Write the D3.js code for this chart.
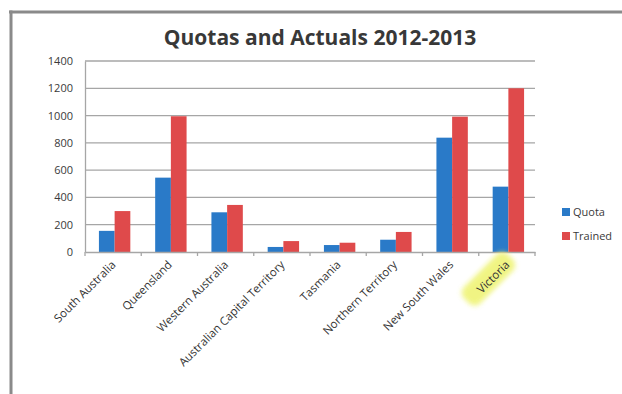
<!DOCTYPE html>
<html><head><meta charset="utf-8">
<script src="https://cdn.jsdelivr.net/npm/d3@7"></script>
<style>body{margin:0;background:#fff}svg{display:block}</style>
</head><body>
<svg id="c" width="622" height="394"></svg>
<script>
const categories = ["South Australia","Queensland","Western Australia","Australian Capital Territory","Tasmania","Northern Territory","New South Wales","Victoria"];
const quota = [155, 545, 291, 37, 51, 90, 838, 479];
const trained = [300, 995, 345, 80, 68, 147, 992, 1200];
const seriesNames = ["Quota","Trained"];
const seriesColors = ["#2a7ac8","#df4a4b"];
const yTicks = [0,200,400,600,800,1000,1200,1400];
const title = "Quotas and Actuals 2012-2013";

const svg = d3.select("#c");
const font = "'Open Sans', Calibri, sans-serif";
const W = 622, H = 394;
const m = {left:85, right:535, top:61, bottom:252};

// frame
svg.append("rect").attr("x",0).attr("y",0).attr("width",W).attr("height",H).attr("fill","#fff");
svg.append("line").attr("x1",9).attr("x2",W).attr("y1",12).attr("y2",12).attr("stroke","#8a8a8a").attr("stroke-width",3);
svg.append("line").attr("x1",11).attr("x2",11).attr("y1",10.5).attr("y2",H).attr("stroke","#8a8a8a").attr("stroke-width",3);

const x = d3.scaleBand().domain(categories).range([m.left,m.right]);
const y = d3.scaleLinear().domain([0,1400]).range([m.bottom,m.top]);
const x1 = d3.scaleBand().domain(seriesNames).range([0,31.4]);

// gridlines
svg.append("g").selectAll("line").data(yTicks.filter(d=>d>0)).join("line")
  .attr("x1",m.left).attr("x2",m.right).attr("y1",d=>y(d)).attr("y2",d=>y(d))
  .attr("stroke","#a6a6a6").attr("stroke-width",1.3);

// y axis
const ya = svg.append("g").attr("transform",`translate(${m.left},0)`)
  .call(d3.axisLeft(y).tickValues(yTicks).tickFormat(d3.format("d")).tickSize(0).tickPadding(12));
ya.select(".domain").attr("stroke","#a6a6a6").attr("stroke-width",1.3);
ya.selectAll("text").attr("font-family",font).attr("font-size",11).attr("fill","#3a3a3a");

// bars
const data = categories.map((c,i)=>({c, vals:[quota[i],trained[i]]}));
const g = svg.append("g");
data.forEach(d=>{
  const cx = x(d.c) + x.bandwidth()/2 + 1.5;
  g.selectAll(null).data(d.vals).join("rect")
    .attr("x",(v,j)=>cx - 15.7 + x1(seriesNames[j]))
    .attr("width",x1.bandwidth())
    .attr("y",v=>y(v)).attr("height",v=>y(0)-y(v))
    .attr("fill",(v,j)=>seriesColors[j]);
});

// x axis
const xa = svg.append("g").attr("transform",`translate(0,${m.bottom})`)
  .call(d3.axisBottom(x).tickSize(0).tickFormat(""));
xa.select(".domain").attr("stroke","#a6a6a6").attr("stroke-width",1.3);
const bounds = categories.map(c=>x(c)).concat([m.right]);
svg.append("g").selectAll("line").data(bounds).join("line")
  .attr("x1",d=>d).attr("x2",d=>d).attr("y1",m.bottom).attr("y2",m.bottom+4)
  .attr("stroke","#a6a6a6").attr("stroke-width",1.3);

// category labels
const lab = svg.append("g");
categories.forEach((c,i)=>{
  const cx = x(c) + x.bandwidth()/2 + 1;
  const gg = lab.append("g").attr("transform",`translate(${cx},${m.bottom+11}) rotate(-45)`);
  if (c === "Victoria") {
    gg.append("rect").attr("x",-56).attr("y",-14).attr("width",62).attr("height",23).attr("rx",8)
      .attr("fill","#eef36e").attr("opacity",0.85).style("filter","blur(2.5px)");
  }
  gg.append("text").attr("text-anchor","end").attr("font-family",font).attr("font-size",11.5)
    .attr("fill","#333").attr("dy","0.3em").text(c);
});

// title
svg.append("text").attr("x",320).attr("y",45).attr("text-anchor","middle")
  .attr("font-family",font).attr("font-weight","bold").attr("font-size",21).attr("fill","#383838").text(title);

// legend
const lg = svg.append("g");
seriesNames.forEach((s,i)=>{
  const yy = 212 + i*24;
  lg.append("rect").attr("x",562).attr("y",yy-4).attr("width",8).attr("height",8).attr("fill",seriesColors[i]);
  lg.append("text").attr("x",573).attr("y",yy).attr("dy","0.35em").attr("font-family",font).attr("font-size",11)
    .attr("fill","#3a3a3a").text(s);
});
</script>
</body></html>
